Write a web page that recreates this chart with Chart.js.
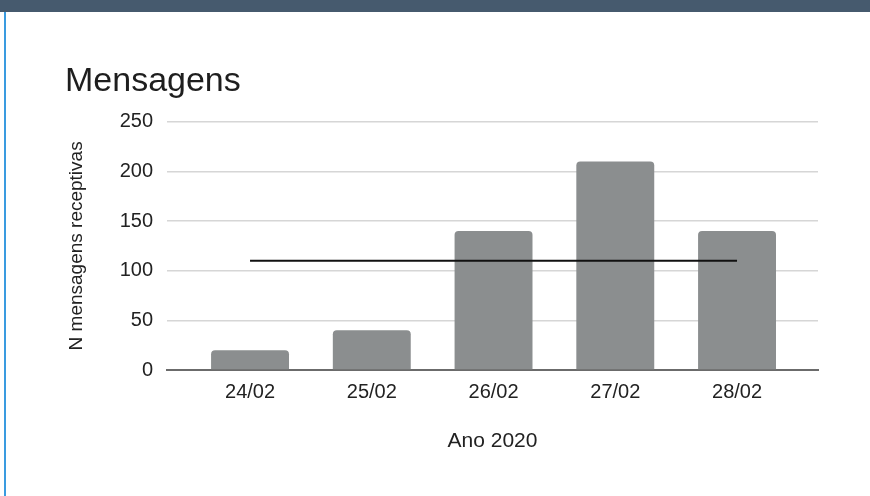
<!DOCTYPE html>
<html>
<head>
<meta charset="utf-8">
<script src="https://cdn.jsdelivr.net/npm/chart.js@4.4.0/dist/chart.umd.min.js"></script>
<style>
    html, body { margin: 0; padding: 0; background: #fff; }
    #wrap { position: relative; width: 870px; height: 496px; overflow: hidden; }
    #topbar { position: absolute; left: 0; top: 0; width: 870px; height: 12px; background: #465a6e; }
    #leftline { position: absolute; left: 4px; top: 12px; width: 2px; height: 484px; background: #3a9be0; }
    #chart { position: absolute; left: 0; top: 0; }
</style>
</head>
<body>
<div id="wrap">
    <div id="topbar"></div>
    <div id="leftline"></div>
    <canvas id="chart" width="870" height="496"></canvas>
</div>
<script>
// Data
const dias = ['24/02', '25/02', '26/02', '27/02', '28/02'];
const mensagens = [20, 40, 140, 210, 140];
const media = [110, 110, 110, 110, 110];
const yTicks = [0, 50, 100, 150, 200, 250];

const fontFamily = '"Liberation Sans", Arial, sans-serif';

const ctx = document.getElementById('chart').getContext('2d');
new Chart(ctx, {
    data: {
        datasets: [
            {
                type: 'line',
                label: 'Média',
                data: media.map((v, i) => ({ x: i, y: v })),
                borderColor: '#111',
                borderWidth: 2,
                pointRadius: 0,
                order: 0,
            },
            {
                type: 'bar',
                label: 'Mensagens',
                data: mensagens.map((v, i) => ({ x: i, y: v })),
                backgroundColor: '#8b8e8f',
                borderRadius: { topLeft: 4, topRight: 4 },
                borderSkipped: 'start',
                categoryPercentage: 1,
                barPercentage: 0.64,
                order: 1,
            },
        ],
    },
    options: {
        responsive: false,
        animation: false,
        layout: { padding: { left: 65, right: 52, top: 61, bottom: 0 } },
        plugins: {
            legend: { display: false },
            tooltip: { enabled: false },
            title: {
                display: true,
                text: 'Mensagens',
                align: 'start',
                color: '#1e1e1e',
                font: { family: fontFamily, size: 34, weight: 'normal' },
                padding: { top: 0, bottom: 20 },
            },
        },
        scales: {
            x: {
                type: 'linear',
                offset: false,
                min: -0.682,
                max: 4.665,
                afterBuildTicks: (scale) => {
                    scale.ticks = dias.map((_, i) => ({ value: i }));
                },
                afterFit: (scale) => { scale.height = 126; },
                ticks: {
                    autoSkip: false,
                    callback: (v) => dias[v],
                    color: '#222',
                    padding: 2,
                    font: { family: fontFamily, size: 20 },
                },
                grid: { display: false },
                border: { display: true, color: '#6b6b6b', width: 2 },
                title: {
                    display: true,
                    text: 'Ano 2020',
                    color: '#222',
                    font: { family: fontFamily, size: 21 },
                    padding: { top: 0, bottom: 42 },
                },
            },
            y: {
                min: 0,
                max: 250,
                afterBuildTicks: (scale) => {
                    scale.ticks = yTicks.map((v) => ({ value: v }));
                },
                afterFit: (scale) => { scale.width = 102; },
                ticks: {
                    color: '#222',
                    padding: 14,
                    font: { family: fontFamily, size: 20 },
                },
                grid: { color: '#d6d6d6', lineWidth: 1.5, drawTicks: false },
                border: { display: false },
                title: {
                    display: true,
                    text: 'N mensagens receptivas',
                    color: '#222',
                    font: { family: fontFamily, size: 19 },
                    padding: { top: 0, bottom: 0 },
                },
            },
        },
    },
});
</script>
</body>
</html>
